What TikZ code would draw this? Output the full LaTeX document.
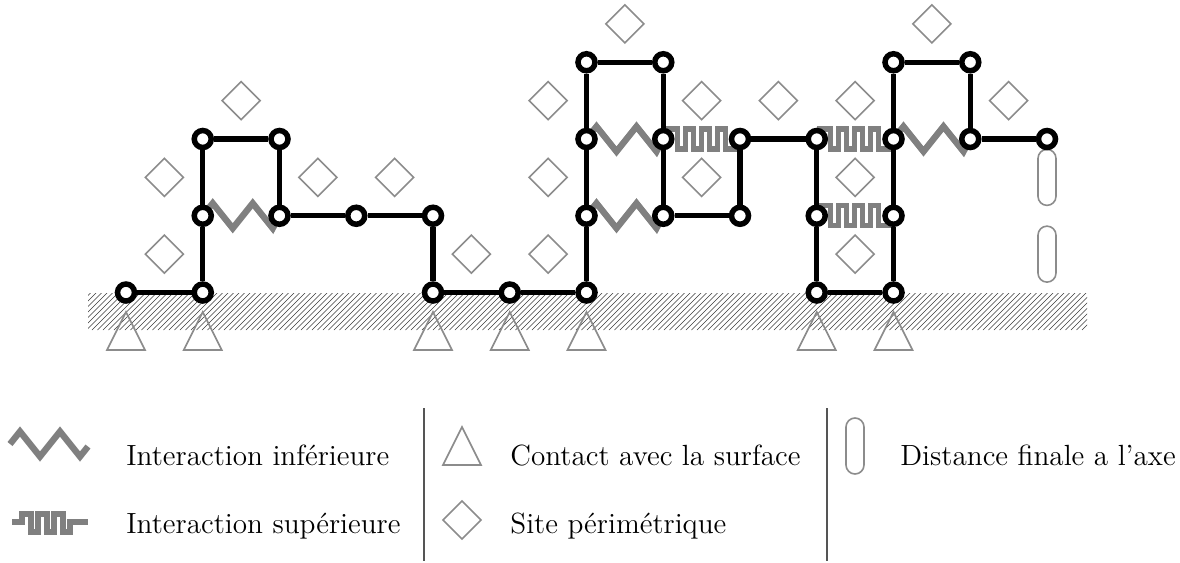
\documentclass[tikz,border=0pt]{standalone}
\usepackage{fontspec}
\usetikzlibrary{calc}
\pgfdeclarelayer{back}
\pgfsetlayers{back,main}
\definecolor{inter}{HTML}{808080}
\definecolor{outl}{HTML}{8C8C8C}
\definecolor{sepc}{HTML}{555555}
\definecolor{hatchc}{HTML}{3A3A3A}
\tikzset{
  site/.style={circle,draw=black,fill=white,line width=2.75pt,minimum size=8.5pt,inner sep=0pt},
  bond/.style={draw=black,line width=2.6pt},
  lower/.style={draw=inter,line width=3.2pt,line join=miter,miter limit=10},
  upper/.style={draw=inter,line width=2.7pt,line join=miter},
  symb/.style={draw=outl,line width=0.8pt},
  hatchline/.style={draw=hatchc,line width=0.3pt},
  sepline/.style={draw=sepc,line width=0.6pt},
  lbl/.style={anchor=base west,inner sep=0pt,font=\fontsize{14.6}{17}\selectfont},
  perim/.pic={\draw[symb] (-19,0) -- (0,-19) -- (19,0) -- (0,19) -- cycle;},
  contact/.pic={\draw[symb,line join=miter] (0,0) -- (19,38) -- (-19,38) -- cycle;},
  axe/.pic={\draw[symb,rounded corners=4.5pt] (-9,-28) rectangle (9,28);}
}
\newcommand\lowbond[2]{\draw[lower] (#1.center) -- ++(10,-12.5) -- ++(20,25) -- ++(20,-25) -- ++(20,25) -- (#2.center);}
\newcommand\upbond[2]{\draw[upper] ($(#1.center)+(0,-10)$) -- ++(14,0) -- ++(0,20) -- ++(8,0) -- ++(0,-20) -- ++(8,0) -- ++(0,20) -- ++(8,0) -- ++(0,-20) -- ++(8,0) -- ++(0,20) -- ++(8,0) -- ++(0,-20) -- ++(8,0) -- ++(0,20) -- ++(15,0);}
\begin{document}
\begin{tikzpicture}[x=0.5pt,y=-0.5pt]
\useasboundingbox (0,0) rectangle (1180,563);
% sites of the chain
\foreach \c/\r in {0/0,1/0,1/1,1/2,2/2,2/1,3/1,4/1,4/0,5/0,6/0,6/1,6/2,6/3,7/3,7/2,7/1,8/1,8/2,9/2,9/1,9/0,10/0,10/1,10/2,10/3,11/3,11/2,12/2}
  \node[site] (v\c-\r) at ({126+76.75*\c},{292.5-76.75*\r}) {};
\begin{pgfonlayer}{back}
  % surface
  \begin{scope}
    \clip (88,293) rectangle (1087,330);
    \foreach \k in {48,53.5,...,1090} \draw[hatchline] (\k,330) -- ++(38,-38);
  \end{scope}
  % contacts
  \foreach \c in {0,1,4,5,6,9,10} \pic at ({126+76.75*\c},312) {contact};
  % perimeter sites
  \foreach \c/\r in {1.5/2.5,0.5/1.5,0.5/0.5,2.5/1.5,3.5/1.5,4.5/0.5,5.5/0.5,5.5/1.5,5.5/2.5,6.5/3.5,7.5/2.5,8.5/2.5,7.5/1.5,9.5/2.5,9.5/1.5,9.5/0.5,10.5/3.5,11.5/2.5}
    \pic at ({126+76.75*\c},{292.5-76.75*\r}) {perim};
  % final distance
  \pic at ({126+76.75*12},{292.5-76.75*1.5}) {axe};
  \pic at ({126+76.75*12},{292.5-76.75*0.5}) {axe};
  % interactions
  \lowbond{v1-1}{v2-1}
  \lowbond{v6-2}{v7-2}
  \lowbond{v6-1}{v7-1}
  \lowbond{v10-2}{v11-2}
  \upbond{v7-2}{v8-2}
  \upbond{v9-2}{v10-2}
  \upbond{v9-1}{v10-1}
  % chain
  \draw[bond] (v0-0) -- (v1-0) -- (v1-1) -- (v1-2) -- (v2-2) -- (v2-1) -- (v3-1) -- (v4-1) -- (v4-0) -- (v5-0) -- (v6-0) -- (v6-1) -- (v6-2) -- (v6-3) -- (v7-3) -- (v7-2) -- (v7-1) -- (v8-1) -- (v8-2) -- (v9-2) -- (v9-1) -- (v9-0) -- (v10-0) -- (v10-1) -- (v10-2) -- (v10-3) -- (v11-3) -- (v11-2) -- (v12-2);
\end{pgfonlayer}
% legend
\coordinate (lz) at (10,444);
\draw[lower] (lz) -- ++(10,-12.5) -- ++(20,25) -- ++(20,-25) -- ++(20,25) -- ++(8,-10);
\node[lbl] (t1) at (126,465) {Interaction inférieure};
\coordinate (lw) at (12,522);
\draw[upper] (lw) -- ++(10,0) -- ++(0,-8) -- ++(9,0) -- ++(0,18) -- ++(7,0) -- ++(0,-18) -- ++(9,0) -- ++(0,18) -- ++(7,0) -- ++(0,-18) -- ++(9,0) -- ++(0,18) -- ++(7,0) -- ++(0,-10) -- ++(18,0);
\node[lbl] (t2) at (126,533) {Interaction supérieure};
\draw[sepline] (424,408) -- (424,561);
\pic at (462,427) {contact};
\node[lbl] (t3) at (510,465) {Contact avec la surface};
\pic at (462,520) {perim};
\node[lbl] (t4) at (510,533) {Site périmétrique};
\draw[sepline] (827,408) -- (827,561);
\pic at (855,446) {axe};
\node[lbl] (t5) at (900,465) {Distance finale a l'axe};
\end{tikzpicture}
\end{document}
